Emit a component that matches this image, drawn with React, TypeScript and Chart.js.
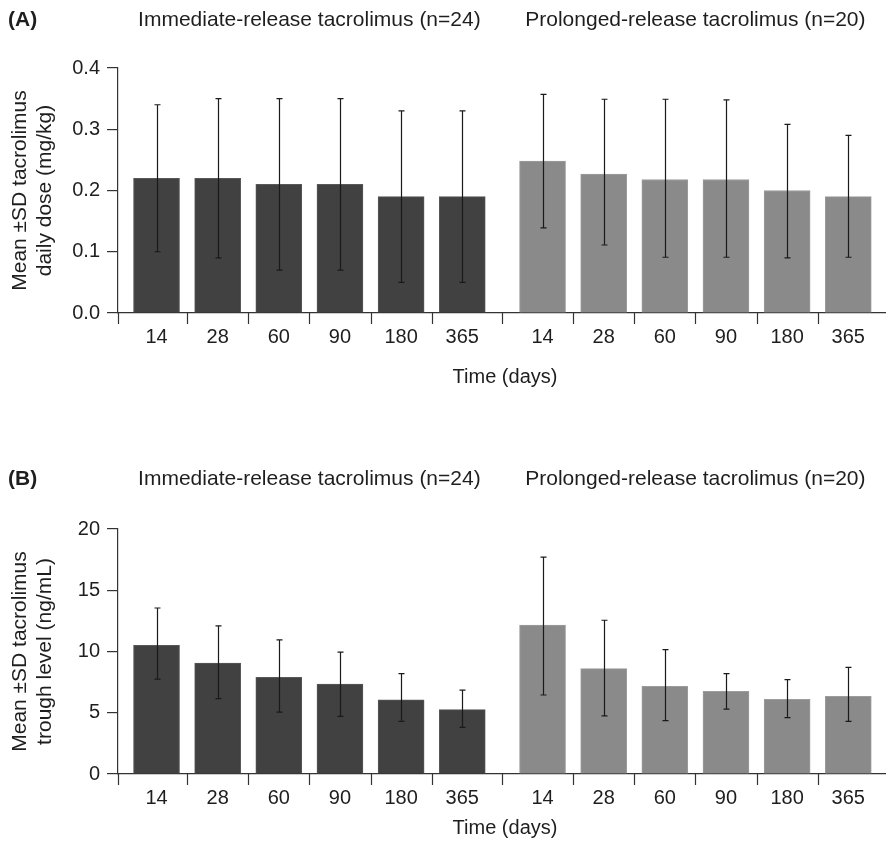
import React, { useEffect, useRef } from "react";
import { Chart, registerables } from "chart.js";
Chart.register(...registerables);

// ---------- data ----------
const timepoints = ["14", "28", "60", "90", "180", "365"];
const groupTitles = ["Immediate-release tacrolimus (n=24)", "Prolonged-release tacrolimus (n=20)"];

const irDoseMean = [0.22, 0.22, 0.21, 0.21, 0.19, 0.19];
const irDoseUpper = [0.34, 0.35, 0.35, 0.35, 0.33, 0.33];
const irDoseLower = [0.1, 0.09, 0.07, 0.07, 0.05, 0.05];
const prDoseMean = [0.248, 0.227, 0.218, 0.218, 0.2, 0.19];
const prDoseUpper = [0.357, 0.349, 0.349, 0.348, 0.308, 0.29];
const prDoseLower = [0.139, 0.111, 0.091, 0.091, 0.09, 0.091];

const irTroughMean = [10.5, 9.05, 7.9, 7.35, 6.05, 5.25];
const irTroughUpper = [13.55, 12.1, 10.95, 9.95, 8.2, 6.85];
const irTroughLower = [7.75, 6.15, 5.05, 4.7, 4.3, 3.8];
const prTroughMean = [12.15, 8.6, 7.15, 6.75, 6.1, 6.35];
const prTroughUpper = [17.7, 12.55, 10.15, 8.2, 7.7, 8.7];
const prTroughLower = [6.45, 4.75, 4.35, 5.3, 4.6, 4.3];

const doseTicks = [0, 0.1, 0.2, 0.3, 0.4];
const troughTicks = [0, 5, 10, 15, 20];

// ---------- layout constants ----------
const W = 886;
const H = 424;
const GROUP_OFFSET = 6.313;
const X_MIN = -0.63;
const X_MAX = 11.93;
const FONT = "'Liberation Sans', Arial, Helvetica, sans-serif";
const TEXT = "#1e1e1e";
const AXIS = "#333333";
const IR_FILL = "#414141";
const IR_EDGE = "#585858";
const PR_FILL = "#8a8a8a";
const PR_EDGE = "#9c9c9c";

const xOf = (g: number, i: number) => g * GROUP_OFFSET + i;
const allPositions = [0, 1].flatMap((g) => timepoints.map((_, i) => xOf(g, i)));

type Series = { mean: number[]; upper: number[]; lower: number[]; fill: string; edge: string };
type PanelCfg = {
  letter: string;
  yTitle: string[];
  ticks: number[];
  decimals: number;
  series: Series[];
  top: number;
  axisY: number;
  headerY: number;
  timeY: number;
};

const panels: PanelCfg[] = [
  {
    letter: "(A)",
    yTitle: ["Mean \u00B1SD tacrolimus", "daily dose (mg/kg)"],
    ticks: doseTicks,
    decimals: 1,
    series: [
      { mean: irDoseMean, upper: irDoseUpper, lower: irDoseLower, fill: IR_FILL, edge: IR_EDGE },
      { mean: prDoseMean, upper: prDoseUpper, lower: prDoseLower, fill: PR_FILL, edge: PR_EDGE },
    ],
    top: 68,
    axisY: 313,
    headerY: 20,
    timeY: 377,
  },
  {
    letter: "(B)",
    yTitle: ["Mean \u00B1SD tacrolimus", "trough level (ng/mL)"],
    ticks: troughTicks,
    decimals: 0,
    series: [
      { mean: irTroughMean, upper: irTroughUpper, lower: irTroughLower, fill: IR_FILL, edge: IR_EDGE },
      { mean: prTroughMean, upper: prTroughUpper, lower: prTroughLower, fill: PR_FILL, edge: PR_EDGE },
    ],
    top: 105,
    axisY: 350,
    headerY: 55,
    timeY: 404,
  },
];

const X_AXIS_H = 50;

function makePlugin(p: PanelCfg) {
  return {
    id: "panelDeco",
    afterDatasetsDraw(chart: any) {
      const ctx = chart.ctx;
      const y = chart.scales.y;
      ctx.save();
      ctx.strokeStyle = "#1a1a1a";
      ctx.lineWidth = 1.2;
      p.series.forEach((s, di) => {
        const meta = chart.getDatasetMeta(di);
        meta.data.forEach((bar: any, i: number) => {
          const x = Math.round(bar.x) + 0.5;
          const yt = y.getPixelForValue(s.upper[i]);
          const yb = y.getPixelForValue(s.lower[i]);
          ctx.beginPath();
          ctx.moveTo(x, yt);
          ctx.lineTo(x, yb);
          ctx.moveTo(x - 3, yt);
          ctx.lineTo(x + 3, yt);
          ctx.moveTo(x - 3, yb);
          ctx.lineTo(x + 3, yb);
          ctx.stroke();
        });
      });
      ctx.restore();
    },
    afterDraw(chart: any) {
      const ctx = chart.ctx;
      const xs = chart.scales.x;
      const area = chart.chartArea;
      ctx.save();
      // boundary tick marks on the x axis
      ctx.strokeStyle = AXIS;
      ctx.lineWidth = 1.2;
      const bounds: number[] = [X_MIN];
      for (let k = 0; k < allPositions.length - 1; k++) {
        bounds.push((allPositions[k] + allPositions[k + 1]) / 2);
      }
      bounds.forEach((v) => {
        const px = Math.round(xs.getPixelForValue(v)) + 0.5;
        ctx.beginPath();
        ctx.moveTo(px, area.bottom);
        ctx.lineTo(px, area.bottom + 11);
        ctx.stroke();
      });
      ctx.fillStyle = TEXT;
      ctx.textBaseline = "middle";
      // panel letter
      ctx.font = `bold 21px ${FONT}`;
      ctx.textAlign = "left";
      ctx.fillText(p.letter, 8, p.headerY);
      // group titles
      ctx.font = `21px ${FONT}`;
      ctx.textAlign = "center";
      [0, 1].forEach((g) => {
        const c = (xs.getPixelForValue(xOf(g, 0)) + xs.getPixelForValue(xOf(g, timepoints.length - 1))) / 2;
        ctx.fillText(groupTitles[g], c, p.headerY);
      });
      // x title
      ctx.font = `20px ${FONT}`;
      ctx.fillText("Time (days)", (area.left + area.right) / 2 + 3, p.timeY);
      // y title
      ctx.font = `21px ${FONT}`;
      const cy = (area.top + area.bottom) / 2;
      [20, 45].forEach((lx, li) => {
        ctx.save();
        ctx.translate(lx, cy);
        ctx.rotate(-Math.PI / 2);
        ctx.fillText(p.yTitle[li], 0, 0);
        ctx.restore();
      });
      ctx.restore();
    },
  };
}

function Panel({ cfg, offsetTop }: { cfg: PanelCfg; offsetTop: number }) {
  const ref = useRef<HTMLCanvasElement | null>(null);
  useEffect(() => {
    if (!ref.current) return;
    const ticks = cfg.ticks;
    const chart = new Chart(ref.current, {
      type: "bar",
      data: {
        datasets: cfg.series.map((s, g) => ({
          label: groupTitles[g],
          data: s.mean.map((y, i) => ({ x: xOf(g, i), y })),
          backgroundColor: s.fill,
          borderColor: s.edge,
          borderWidth: 1,
          barThickness: 46,
          grouped: false,
        })),
      },
      options: {
        animation: false,
        responsive: false,
        devicePixelRatio: 1,
        layout: { padding: { top: cfg.top, left: 0, right: 0, bottom: H - cfg.axisY - X_AXIS_H } },
        plugins: { legend: { display: false }, tooltip: { enabled: false }, title: { display: false } },
        scales: {
          x: {
            type: "linear",
            offset: false,
            min: X_MIN,
            max: X_MAX,
            afterBuildTicks: (s: any) => {
              s.ticks = allPositions.map((v) => ({ value: v }));
            },
            afterFit: (s: any) => {
              s.height = X_AXIS_H;
            },
            ticks: {
              autoSkip: false,
              maxRotation: 0,
              padding: 12,
              color: TEXT,
              font: { family: FONT, size: 20 },
              callback: (_v: any, idx: number) => timepoints[idx % timepoints.length],
            },
            grid: { display: true, offset: false, drawOnChartArea: false, drawTicks: false, color: "rgba(0,0,0,0)" },
            border: { display: true, color: AXIS, width: 1.2 },
          },
          y: {
            type: "linear",
            min: ticks[0],
            max: ticks[ticks.length - 1],
            afterBuildTicks: (s: any) => {
              s.ticks = ticks.map((v) => ({ value: v }));
            },
            afterFit: (s: any) => {
              s.width = 118;
            },
            ticks: {
              padding: 7,
              color: TEXT,
              font: { family: FONT, size: 20 },
              callback: (v: any) => Number(v).toFixed(cfg.decimals),
            },
            grid: { display: true, drawOnChartArea: false, drawTicks: true, tickLength: 11, color: AXIS, lineWidth: 1.2 },
            border: { display: true, color: AXIS, width: 1.2 },
          },
        },
      },
      plugins: [makePlugin(cfg)],
    } as any);
    return () => chart.destroy();
  }, [cfg]);
  return (
    <div style={{ position: "absolute", left: 0, top: offsetTop, width: W, height: H }}>
      <canvas ref={ref} width={W} height={H} style={{ width: W, height: H, display: "block" }} />
    </div>
  );
}

export default function App() {
  return (
    <div style={{ position: "fixed", left: 0, top: 0, width: W, height: H * 2, background: "#ffffff" }}>
      <Panel cfg={panels[0]} offsetTop={0} />
      <Panel cfg={panels[1]} offsetTop={H} />
    </div>
  );
}
